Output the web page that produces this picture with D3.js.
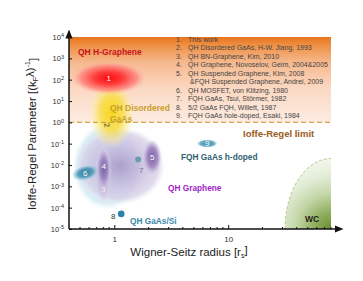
<!DOCTYPE html>
<html>
<head>
<meta charset="utf-8">
<script src="https://cdn.jsdelivr.net/npm/d3@7"></script>
<style>
  body { margin: 0; background: #fff; }
  svg { font-family: "Liberation Sans", Arial, sans-serif; }
</style>
</head>
<body>
<div id="chart"></div>
<script>
// regions in (r_s, Ioffe-Regel parameter) space: [min, max] along each axis
const regionIds = ["gaasSi", "graphene", "disordered", "hGraphene", "bn", "novoselov", "suspended", "mosfet", "hDoped"];
const regionRs = [[0.43, 1.75], [0.455, 2.8], [0.6, 1.5], [0.42, 1.9], [0.68, 0.94], [0.71, 0.92], [1.8, 2.58], [0.43, 0.72], [5.35, 8.0]];
const regionKl = [[8e-5, 0.9], [1.4e-4, 0.6], [0.06, 120], [20, 700], [2.1e-4, 0.081], [9.5e-4, 0.047], [3.9e-3, 0.14], [2.0e-3, 9.3e-3], [0.066, 0.156]];
const regionLabels = ["", "", "", "1", "3", "4", "5", "6", "9"];

// single experiments
const pointLabels = ["7", "8"];
const pointRs = [1.62, 1.15];
const pointKl = [0.018, 5.1e-5];

// wigner crystal boundary and ioffe-regel limit
const wcRs = 31.6;
const wcKl = 0.02;
const ioffeRegel = 1;

const yTicks = [1e-5, 1e-4, 1e-3, 1e-2, 1e-1, 1e0, 1e1, 1e2, 1e3, 1e4];
const xTicks = [1, 10];
const xMinor = [0.5, 0.6, 0.7, 0.8, 0.9, 2, 3, 4, 5, 6, 7, 8, 9, 20, 30, 40, 50, 60, 70, 80];

const legendNums = ["1.", "2.", "3.", "4.", "5.", "", "6.", "7.", "8.", "9."];
const legendTexts = [
    "This work",
    "QH Disordered  GaAs, H-W. Jiang, 1993",
    "QH BN-Graphene, Kim, 2010",
    "QH Graphene, Novoselov, Geim, 2004&2005",
    "QH Suspended Graphene, Kim, 2008",
    "&FQH Suspended Graphene, Andrei, 2009",
    "QH MOSFET, von Klitzing, 1980",
    "FQH GaAs, Tsui, Störmer, 1982",
    "5/2 GaAs FQH, Willett, 1987",
    "FQH GaAs hole-doped, Esaki, 1984"
];

// gradient stops per region: [offset, colour, opacity]
const STOPS = {
    gaasSi: [[0, "#cfe6f0", 1], [0.85, "#d8ecf4", 0.95], [1, "#e6f3f8", 0]],
    graphene: [[0, "#a898c8", 0.9], [0.5, "#c4b9dc", 0.8], [0.85, "#d6cfe8", 0.75], [1, "#e8e4f3", 0]],
    disordered: [[0, "#f7d61a", 1], [0.5, "#f8dd45", 0.85], [0.8, "#fae98e", 0.45], [1, "#fbefb5", 0]],
    hGraphene: [[0, "#ff0a0a", 1], [0.4, "#ff3838", 0.95], [0.75, "#ff7c78", 0.75], [1, "#ffb4aa", 0]],
    bn: [[0, "#b9a8d4", 0.9], [0.8, "#cfc4e2", 0.85], [1, "#ddd5eb", 0.2]],
    novoselov: [[0, "#7a62a6", 1], [0.6, "#9a86bf", 0.9], [1, "#c2b5da", 0.3]],
    suspended: [[0, "#7b5fa3", 1], [0.6, "#9a82bd", 0.85], [1, "#c5b6da", 0.2]],
    mosfet: [[0, "#2f7d9e", 1], [0.6, "#4d97b6", 0.9], [1, "#9ccbe0", 0.3]],
    hDoped: [[0, "#3d8eaa", 1], [0.7, "#5aa3bd", 0.9], [1, "#a6d0e0", 0.3]]
};

const W = 363, H = 281;
const PLOT = { left: 69, right: 331, top: 37, bottom: 229 };

const x = d3.scaleLog().domain([0.4, 80]).range([PLOT.left, PLOT.right]);
const y = d3.scaleLog().domain([1e-5, 1e4]).range([PLOT.bottom, PLOT.top]);

const svg = d3.select("#chart").append("svg")
    .attr("width", W)
    .attr("height", H);

const defs = svg.append("defs");

// orange band above the ioffe-regel limit
const band = defs.append("linearGradient")
    .attr("id", "band")
    .attr("x1", 0).attr("y1", 0).attr("x2", 0).attr("y2", 1);
[[0, "#e8741c"], [0.1, "#ee9146"], [0.3, "#f6b98e"], [0.6, "#fbd8c2"], [1, "#fdece2"]].forEach(s => {
    band.append("stop").attr("offset", s[0]).attr("stop-color", s[1]);
});

svg.append("rect")
    .attr("x", PLOT.left)
    .attr("y", y(1e4))
    .attr("width", PLOT.right - PLOT.left)
    .attr("height", y(ioffeRegel) - y(1e4))
    .attr("fill", "url(#band)");

// wigner crystal corner
const wcGrad = defs.append("radialGradient")
    .attr("id", "wc")
    .attr("gradientUnits", "userSpaceOnUse")
    .attr("cx", x(80)).attr("cy", y(1e-5))
    .attr("r", y(1e-5) - y(wcKl));
[[0, "#678d30"], [0.25, "#93b062"], [0.5, "#c4d7a8"], [0.75, "#e2ecd6"], [1, "#f3f7ee"]].forEach(s => {
    wcGrad.append("stop").attr("offset", s[0]).attr("stop-color", s[1]);
});

const wcRx = x(80) - x(wcRs);
const wcRy = y(1e-5) - y(wcKl);
svg.append("path")
    .attr("d", `M${x(wcRs)},${y(1e-5)} A${wcRx},${wcRy} 0 0 1 ${x(80)},${y(wcKl)} L${x(80)},${y(1e-5)} Z`)
    .attr("fill", "url(#wc)");
svg.append("path")
    .attr("d", `M${x(wcRs)},${y(1e-5)} A${wcRx},${wcRy} 0 0 1 ${x(80)},${y(wcKl)}`)
    .attr("fill", "none")
    .attr("stroke", "#b2c886")
    .attr("stroke-width", 1)
    .attr("stroke-dasharray", "3,2");

// gradients for each region
regionIds.forEach(id => {
    const g = defs.append("radialGradient").attr("id", "g-" + id);
    STOPS[id].forEach(s => {
        g.append("stop")
            .attr("offset", s[0])
            .attr("stop-color", s[1])
            .attr("stop-opacity", s[2]);
    });
});

const regions = regionIds.map((id, i) => ({
    id,
    label: regionLabels[i],
    cx: (x(regionRs[i][0]) + x(regionRs[i][1])) / 2,
    cy: (y(regionKl[i][0]) + y(regionKl[i][1])) / 2,
    rx: (x(regionRs[i][1]) - x(regionRs[i][0])) / 2,
    ry: (y(regionKl[i][0]) - y(regionKl[i][1])) / 2
}));

svg.append("g").selectAll("ellipse")
    .data(regions)
    .join("ellipse")
    .attr("cx", d => d.cx)
    .attr("cy", d => d.cy)
    .attr("rx", d => d.rx)
    .attr("ry", d => d.ry)
    .attr("transform", d => d.id === "mosfet" ? `rotate(-14,${d.cx},${d.cy})` : null)
    .attr("fill", d => `url(#g-${d.id})`);

svg.append("g").selectAll("text")
    .data(regions.filter(d => d.label))
    .join("text")
    .attr("x", d => d.cx)
    .attr("y", d => d.label === "3" ? d.cy + 16 : (d.label === "4" ? d.cy - 3 : d.cy))
    .attr("dy", "0.35em")
    .attr("text-anchor", "middle")
    .attr("font-size", 8)
    .attr("fill", d => d.label === "3" ? "#f1ecf8" : "#fff")
    .text(d => d.label);

// single points
const POINT_COLOR = ["#6b9cb2", "#2a82aa"];
svg.append("g").selectAll("circle")
    .data(pointLabels)
    .join("circle")
    .attr("cx", (d, i) => x(pointRs[i]))
    .attr("cy", (d, i) => y(pointKl[i]))
    .attr("r", (d, i) => i === 0 ? 3 : 3.3)
    .attr("fill", (d, i) => POINT_COLOR[i]);
svg.append("text")
    .attr("x", x(pointRs[0]) + 3).attr("y", y(pointKl[0]) + 13)
    .attr("text-anchor", "middle").attr("font-size", 8).attr("fill", "#6e7c8c")
    .text(pointLabels[0]);
svg.append("text")
    .attr("x", x(pointRs[1]) - 8).attr("y", y(pointKl[1]) + 5)
    .attr("text-anchor", "middle").attr("font-size", 8).attr("fill", "#333")
    .text(pointLabels[1]);
svg.append("text")
    .attr("transform", "translate(107,125) rotate(80)")
    .attr("text-anchor", "middle").attr("dy", "0.35em")
    .attr("font-size", 7.5).attr("fill", "#3a3a3a")
    .text("2");

// ioffe-regel limit
svg.append("line")
    .attr("x1", PLOT.left).attr("x2", PLOT.right)
    .attr("y1", y(ioffeRegel)).attr("y2", y(ioffeRegel))
    .attr("stroke", "#d2a446")
    .attr("stroke-width", 1.2)
    .attr("stroke-dasharray", "5,3");

// annotations
function note(tx, ty, txt, col, size){
    svg.append("text")
        .attr("x", tx).attr("y", ty)
        .attr("font-size", size)
        .attr("font-weight", "bold")
        .attr("fill", col)
        .text(txt);
}
note(78, 55, "QH H-Graphene", "#c8141e", 8.5);
note(110, 111, "QH Disordered", "#c9a02c", 8.5);
note(110, 122, "GaAs", "#c9a02c", 8.5);
note(243, 137, "Ioffe-Regel limit", "#9b5a1c", 9.5);
note(181, 160, "FQH GaAs h-doped", "#2f5f72", 8.3);
note(168, 191, "QH Graphene", "#a11ec6", 8.3);
note(130, 224, "QH GaAs/Si", "#3a8aaa", 8.3);
note(305, 222, "WC", "#1e1e1e", 8.5);

// legend
const legend = svg.append("g").attr("font-size", 7).attr("fill", "#444");
legendTexts.forEach((t, i) => {
    const ly = 41.5 + i * 8.55;
    legend.append("text").attr("x", 176).attr("y", ly).text(legendNums[i]);
    legend.append("text").attr("x", i === 5 ? 190 : 188).attr("y", ly).text(t);
});

// axes
defs.append("marker")
    .attr("id", "arrow")
    .attr("viewBox", "0 0 10 10")
    .attr("refX", 5).attr("refY", 5)
    .attr("markerWidth", 6).attr("markerHeight", 6)
    .attr("orient", "auto")
    .append("path")
    .attr("d", "M0,1 L10,5 L0,9 Z")
    .attr("fill", "#111");

svg.append("line")
    .attr("x1", PLOT.left).attr("x2", PLOT.left)
    .attr("y1", PLOT.bottom).attr("y2", PLOT.top - 3)
    .attr("stroke", "#111").attr("stroke-width", 1.5)
    .attr("marker-end", "url(#arrow)");
svg.append("line")
    .attr("x1", PLOT.left).attr("x2", PLOT.right + 8)
    .attr("y1", PLOT.bottom).attr("y2", PLOT.bottom)
    .attr("stroke", "#111").attr("stroke-width", 1.5)
    .attr("marker-end", "url(#arrow)");

const yAxis = svg.append("g")
    .attr("transform", `translate(${PLOT.left},0)`)
    .call(d3.axisLeft(y).tickValues(yTicks).tickSize(-3).tickFormat(""));
yAxis.select(".domain").remove();
yAxis.selectAll(".tick line").attr("stroke", "#111");
yAxis.selectAll(".tick").append("text")
    .attr("x", -5)
    .attr("dy", "0.35em")
    .attr("text-anchor", "end")
    .attr("fill", "#333")
    .attr("font-size", 7.5)
    .each(function(d){
        const t = d3.select(this);
        t.append("tspan").text("10");
        t.append("tspan")
            .attr("font-size", 5.5)
            .attr("dy", "-0.5em")
            .text(Math.round(Math.log10(d)));
    });

const xAxis = svg.append("g")
    .attr("transform", `translate(0,${PLOT.bottom})`)
    .call(d3.axisBottom(x).tickValues(xTicks).tickSize(-4).tickFormat(d3.format("d")));
xAxis.select(".domain").remove();
xAxis.selectAll(".tick line").attr("stroke", "#111");
xAxis.selectAll(".tick text")
    .attr("y", 7)
    .attr("font-size", 8)
    .attr("font-family", "Liberation Sans, Arial, sans-serif")
    .attr("fill", "#333");

svg.append("g").selectAll("line")
    .data(xMinor)
    .join("line")
    .attr("x1", d => x(d)).attr("x2", d => x(d))
    .attr("y1", PLOT.bottom).attr("y2", PLOT.bottom - 2)
    .attr("stroke", "#111");

// axis titles
const yTitle = svg.append("text")
    .attr("transform", "translate(36,134) rotate(-90)")
    .attr("text-anchor", "middle")
    .attr("font-size", 11.5)
    .attr("fill", "#222");
yTitle.append("tspan").text("Ioffe-Regel Parameter [(k");
yTitle.append("tspan").attr("font-size", 7).attr("dy", "0.35em").text("F");
yTitle.append("tspan").attr("dy", "-0.35em").text("λ)");
yTitle.append("tspan").attr("font-size", 7).attr("dy", "-0.6em").text("-1");
yTitle.append("tspan").attr("dy", "0.6em").text("]");

const xTitle = svg.append("text")
    .attr("x", 189)
    .attr("y", 256)
    .attr("text-anchor", "middle")
    .attr("font-size", 11.5)
    .attr("fill", "#222");
xTitle.append("tspan").text("Wigner-Seitz radius [r");
xTitle.append("tspan").attr("font-size", 7).attr("dy", "0.35em").text("s");
xTitle.append("tspan").attr("dy", "-0.35em").text("]");
</script>
</body>
</html>
